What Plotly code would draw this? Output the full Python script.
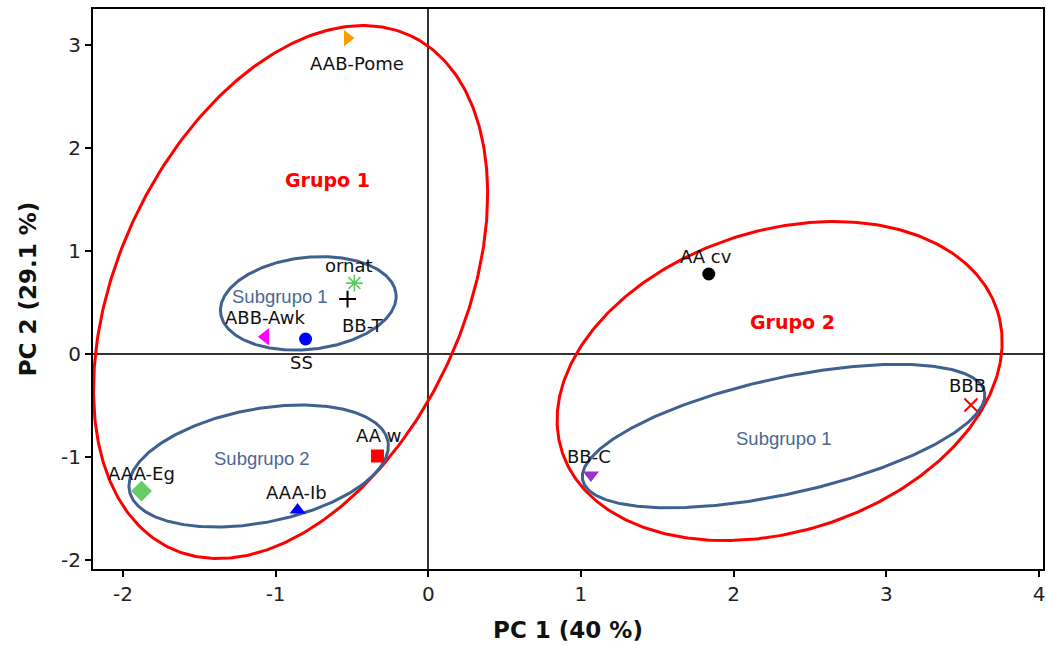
import numpy as np
import plotly.graph_objects as go

# ---- data ----
names = ["AAB-Pome", "AA cv", "ornat", "BB-T", "ABB-Awk", "SS",
         "BBB", "AA w", "BB-C", "AAA-Eg", "AAA-Ib"]
pc1 = [-0.529, 1.837, -0.484, -0.529, -1.067, -0.804,
       3.554, -0.333, 1.065, -1.878, -0.856]
pc2 = [3.068, 0.777, 0.689, 0.534, 0.168, 0.146,
       -0.495, -0.990, -1.175, -1.330, -1.515]

x_ticks = [-2, -1, 0, 1, 2, 3, 4]
x_tick_labels = ["-2", "-1", "0", "1", "2", "3", "4"]
y_ticks = [-2, -1, 0, 1, 2, 3]
y_tick_labels = ["-2", "-1", "0", "1", "2", "3"]

# group ellipses: centre (data), semi-axes (x-units), angle on screen (deg)
ell_names = ["Grupo 1", "Grupo 2", "Subgrupo 1", "Subgrupo 2", "Subgrupo 1b"]
ell_cx = [-0.902, 2.301, -0.786, -1.111, 2.327]
ell_cy = [0.602, -0.262, 0.492, -1.087, -0.796]
ell_a = [1.850, 1.498, 0.578, 0.862, 1.347]
ell_b = [1.130, 0.983, 0.301, 0.371, 0.378]
ell_ang = [64.8, 17.85, 6.2, 10.8, 12.4]

group_labels = ["Grupo 1", "Grupo 2", "Subgrupo 1", "Subgrupo 2", "Subgrupo 1"]
group_lx = [-0.662, 2.386, -0.972, -1.087, 2.331]
group_ly = [1.689, 0.314, 0.563, -1.013, -0.818]

# ---- styles ----
RED = "#ff0000"
STEEL = "#3f6190"
ell_colors = [RED, RED, STEEL, STEEL, STEEL]
label_colors = [RED, RED, "#4a6794", "#4a6794", "#4a6794"]

marker_style = [
    dict(symbol="triangle-right", color="#ff9900", size=14),
    dict(symbol="circle", color="#000000", size=13),
    dict(symbol="asterisk-open", color="#5ccc5c", size=14, line=dict(color="#5ccc5c", width=1.6)),
    dict(symbol="cross-thin-open", color="#000000", size=12, line=dict(color="#000000", width=2)),
    dict(symbol="triangle-left", color="#ff00ff", size=15),
    dict(symbol="circle", color="#0000ff", size=13),
    dict(symbol="x-thin-open", color="#ff0000", size=13, line=dict(color="#ff0000", width=2)),
    dict(symbol="square", color="#ff0000", size=13),
    dict(symbol="triangle-down", color="#9933cc", size=14),
    dict(symbol="diamond", color="#66cc66", size=16),
    dict(symbol="triangle-up", color="#0000ff", size=14),
]
label_shift = [(9, -25), (-3, 18), (-5, 18), (15, -26), (0, 19), (-4, -23),
               (-3, 20), (2, 21), (-2, 19), (0, 18), (-1, 18)]

X_RANGE = [-2.196, 4.026]
Y_RANGE = [-2.087, 3.35]
ASPECT = (952 / (X_RANGE[1] - X_RANGE[0])) / (560 / (Y_RANGE[1] - Y_RANGE[0]))

fig = go.Figure()

t = np.linspace(0, 2 * np.pi, 400)
for cx, cy, a, b, ang, col in zip(ell_cx, ell_cy, ell_a, ell_b, ell_ang, ell_colors):
    th = np.deg2rad(ang)
    ex = cx + a * np.cos(th) * np.cos(t) - b * np.sin(th) * np.sin(t)
    ey = cy + (a * np.sin(th) * np.cos(t) + b * np.cos(th) * np.sin(t)) * ASPECT
    fig.add_trace(go.Scatter(x=ex, y=ey, mode="lines",
                             line=dict(color=col, width=3),
                             hoverinfo="skip", showlegend=False))

for i, n in enumerate(names):
    fig.add_trace(go.Scatter(x=[pc1[i]], y=[pc2[i]], mode="markers",
                             marker=marker_style[i], name=n, showlegend=False))
    fig.add_annotation(x=pc1[i], y=pc2[i], text=n, showarrow=False,
                       xshift=label_shift[i][0], yshift=label_shift[i][1],
                       font=dict(family="DejaVu Sans", size=18, color="#111111"))

for i, g in enumerate(group_labels):
    bold = i < 2
    fig.add_annotation(x=group_lx[i], y=group_ly[i],
                       text=f"<b>{g}</b>" if bold else g, showarrow=False,
                       font=dict(family="DejaVu Sans" if bold else "Liberation Sans",
                                 size=19 if bold else 18.5, color=label_colors[i]))

axis_common = dict(showgrid=False, zeroline=True, zerolinecolor="#333333", zerolinewidth=2,
                   showline=True, linecolor="#000000", linewidth=2, mirror=True,
                   ticks="outside", ticklen=6, tickwidth=2, tickcolor="#000000",
                   tickfont=dict(family="DejaVu Sans", size=20, color="#222222"))

fig.update_xaxes(range=X_RANGE, tickvals=x_ticks, ticktext=x_tick_labels, **axis_common,
                 title=dict(text="<b>PC 1 (40 %)</b>", standoff=17,
                            font=dict(family="DejaVu Sans", size=23, color="#111111")))
fig.update_yaxes(range=Y_RANGE, tickvals=y_ticks, ticktext=y_tick_labels, **axis_common,
                 title=dict(text="<b>PC 2 (29.1 %)</b>", standoff=18,
                            font=dict(family="DejaVu Sans", size=23, color="#111111")))

fig.update_layout(width=1046, height=646, plot_bgcolor="white", paper_bgcolor="white",
                  margin=dict(l=93, r=1, t=9, b=77), showlegend=False)

fig.write_html("out.html")
